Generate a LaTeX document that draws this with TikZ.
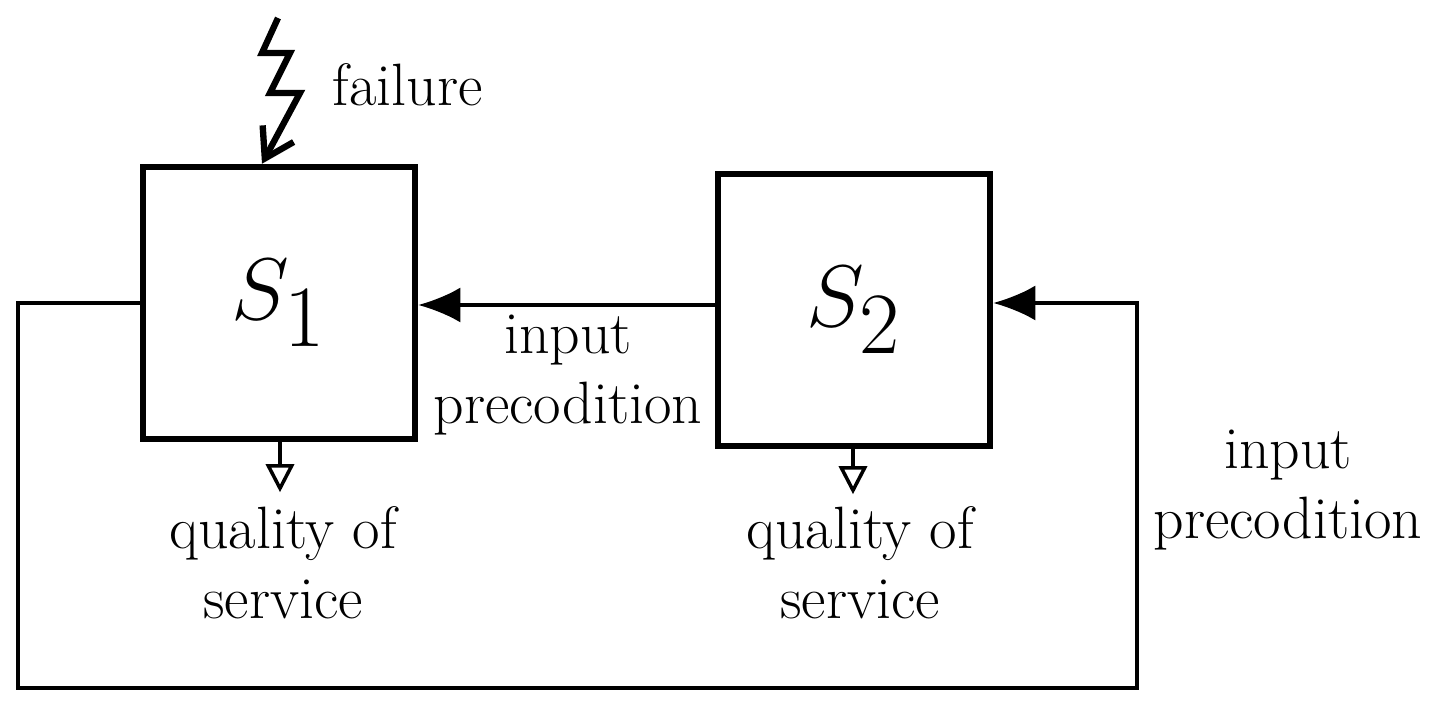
\documentclass[tikz,border=0pt]{standalone}
\usepackage{amsmath}
\usetikzlibrary{arrows.meta}
\begin{document}
\begin{tikzpicture}[x=0.01cm,y=-0.01cm,font=\fontsize{17}{20}\selectfont]
    % `system' is used for the two boxes S1 and S2.
    % `lbl' is used for the text labels.
    \tikzstyle{system} = [draw,line width=1.8pt,minimum size=2.72cm,inner sep=0pt,font=\fontsize{42}{46}\selectfont]
    \tikzstyle{lbl} = [align=center,inner sep=0pt]
    \tikzstyle{link} = [line width=1pt]
    \useasboundingbox (0,0) rectangle (1432,710);
    %
    \node[system] (s1) at (279,303) {$S_1$};
    \node[system] (s2) at (854,310) {$S_2$};
    \node[lbl,anchor=west] (fail) at (332,85) {failure};
    \node[lbl] (in1) at (568,375) {input\\precodition};
    \node[lbl] (in2) at (1288,490) {input\\precodition};
    \node[lbl] (q1) at (283,563) {quality of\\service};
    \node[lbl] (q2) at (860,563) {quality of\\service};
    \coordinate (z0) at (278,18);
    \coordinate (l1) at (18,303);
    \coordinate (l2) at (18,688);
    \coordinate (l3) at (1137,688);
    \coordinate (l4) at (1137,303);
    % Draw lightning.
    \draw[line width=1.8pt,-{Straight Barb[length=8pt,width=10pt]}]
      (z0) -- (262,53) -- (290,53) -- (270,93) -- (300,93) -- (s1.north -| 262,0);
    % Draw connections.
    \draw[link,-{Latex[length=12pt,width=10pt]}] (s2.west |- 0,305) -- (s1.east |- 0,305);
    \draw[link,-{Latex[length=12pt,width=10pt]}] (s1.west |- l1) -- (l1) -- (l2) -- (l3) -- (l4) -- (s2.east |- l4);
    \draw[link,-{Triangle[open,length=8pt,width=8pt]}] (s1.south -| 280,0) -- ++(0,50);
    \draw[link,-{Triangle[open,length=8pt,width=8pt]}] (s2.south -| 853,0) -- ++(0,45);
\end{tikzpicture}
\end{document}
